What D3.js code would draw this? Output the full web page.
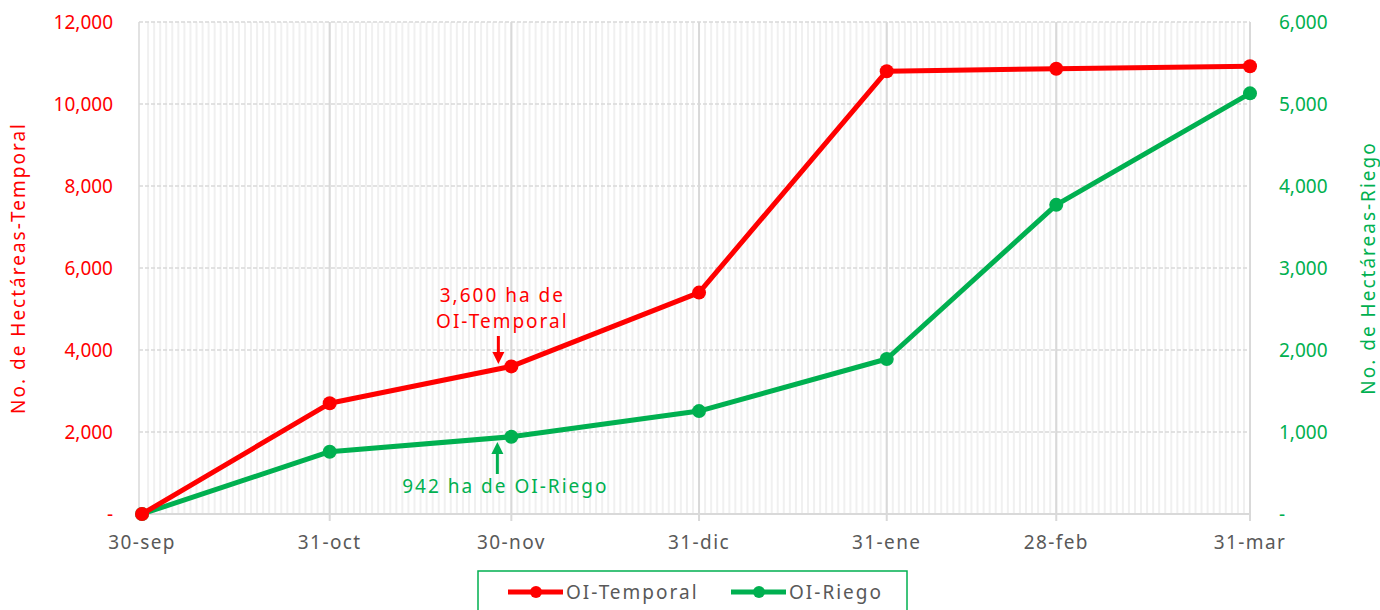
<!DOCTYPE html>
<html>
<head>
<meta charset="utf-8">
<script src="https://cdn.jsdelivr.net/npm/d3@7"></script>
<style>
  body { margin: 0; background: #fff; }
  text { font-family: "Noto Sans", sans-serif; }
  .txt { letter-spacing: 2px; }
  .xlab { letter-spacing: 1.4px; }
</style>
</head>
<body>
<div id="vis"></div>
<script>
// data
var fechas = ["2019-09-30", "2019-10-31", "2019-11-30", "2019-12-31", "2020-01-31", "2020-02-28", "2020-03-31"];
var etiquetas = ["30-sep", "31-oct", "30-nov", "31-dic", "31-ene", "28-feb", "31-mar"];
var temporal = [0, 2700, 3600, 5400, 10800, 10860, 10920];
var riego = [0, 760, 942, 1255, 1890, 3770, 5130];
var ticksIzq = [0, 2000, 4000, 6000, 8000, 10000, 12000];
var ticksDer = [0, 1000, 2000, 3000, 4000, 5000, 6000];

var width = 1380, height = 610;
var margin = {top: 22, right: 130, bottom: 96, left: 139};
var ROJO = "#ff0000", VERDE = "#00b050", GRIS = "#595959";

var parse = d3.timeParse("%Y-%m-%d");
var dates = fechas.map(parse);

var svg = d3.select("#vis").append("svg")
    .attr("width", width).attr("height", height);

var x = d3.scaleTime()
    .domain([d3.timeHour.offset(dates[0], -12), dates[dates.length - 1]])
    .range([margin.left, width - margin.right]);
var yL = d3.scaleLinear().domain([0, 12000]).range([height - margin.bottom, margin.top]);
var yR = d3.scaleLinear().domain([0, 6000]).range([height - margin.bottom, margin.top]);

var x0 = margin.left, x1 = width - margin.right;
var yb = height - margin.bottom, yt = margin.top;

// minor daily gridlines
var dias = d3.timeDay.range(d3.timeDay.offset(dates[0], 1), dates[dates.length - 1]);
svg.append("g").selectAll("line").data(dias).enter().append("line")
    .attr("x1", function(d){ return x(d); }).attr("x2", function(d){ return x(d); })
    .attr("y1", yt).attr("y2", yb)
    .attr("stroke", "#f0f0f0").attr("stroke-width", 2);

// horizontal dashed gridlines
svg.append("g").selectAll("line").data(ticksIzq.slice(1)).enter().append("line")
    .attr("x1", x0).attr("x2", x1)
    .attr("y1", function(d){ return yL(d); }).attr("y2", function(d){ return yL(d); })
    .attr("stroke", "#d9d9d9").attr("stroke-width", 1.5).attr("stroke-dasharray", "4,2");

// major month gridlines
svg.append("g").selectAll("line").data(dates.slice(1)).enter().append("line")
    .attr("x1", function(d){ return x(d); }).attr("x2", function(d){ return x(d); })
    .attr("y1", yt).attr("y2", yb + 7)
    .attr("stroke", "#d9d9d9").attr("stroke-width", 2);
svg.append("line").attr("x1", x0).attr("x2", x0).attr("y1", yt).attr("y2", yb)
    .attr("stroke", "#d9d9d9").attr("stroke-width", 1.5);

// x axis line
svg.append("line").attr("x1", x0).attr("x2", x1).attr("y1", yb).attr("y2", yb)
    .attr("stroke", "#d9d9d9").attr("stroke-width", 2);

// x labels
svg.append("g").selectAll("text").data(dates).enter().append("text")
    .attr("class", "xlab")
    .attr("x", function(d){ return x(d); }).attr("y", yb + 35)
    .attr("text-anchor", "middle").attr("fill", GRIS).style("font-size", "19px")
    .text(function(d, i){ return etiquetas[i]; });

var fmt = function(v){ return v === 0 ? "-" : d3.format(",")(v); };

// left axis
svg.append("g").selectAll("text").data(ticksIzq).enter().append("text")
    .attr("x", 113).attr("y", function(d){ return yL(d) + 7; })
    .attr("text-anchor", "end").attr("fill", ROJO).style("font-size", "19px")
    .text(fmt);
// right axis
svg.append("g").selectAll("text").data(ticksDer).enter().append("text")
    .attr("x", 1279).attr("y", function(d){ return yR(d) + 7; })
    .attr("text-anchor", "start").attr("fill", VERDE).style("font-size", "19px")
    .text(fmt);

// axis titles
svg.append("text").attr("class", "txt")
    .attr("transform", "translate(25," + (yL(6000) ) + ") rotate(-90)")
    .attr("text-anchor", "middle").attr("fill", ROJO).style("font-size", "19px")
    .text("No. de Hectáreas-Temporal");
svg.append("text").attr("class", "txt")
    .attr("transform", "translate(1375," + (yR(3000)) + ") rotate(-90)")
    .attr("text-anchor", "middle").attr("fill", VERDE).style("font-size", "19px")
    .text("No. de Hectáreas-Riego");

// series
function serie(vals, y, color) {
  var pts = dates.map(function(d, i){ return [x(d), y(vals[i])]; });
  svg.append("path").attr("d", d3.line()(pts))
      .attr("fill", "none").attr("stroke", color).attr("stroke-width", 5)
      .attr("stroke-linejoin", "round");
  svg.append("g").selectAll("circle").data(pts).enter().append("circle")
      .attr("cx", function(p){ return p[0]; }).attr("cy", function(p){ return p[1]; })
      .attr("r", 7).attr("fill", color);
}
serie(riego, yR, VERDE);
serie(temporal, yL, ROJO);

// annotations
var ax = x(dates[2]) - 13;
svg.append("text").attr("class", "txt").attr("x", ax + 4).attr("y", 302).attr("text-anchor", "middle")
    .attr("fill", ROJO).style("font-size", "19px").text("3,600 ha de");
svg.append("text").attr("class", "txt").attr("x", ax + 4).attr("y", 328).attr("text-anchor", "middle")
    .attr("fill", ROJO).style("font-size", "19px").text("OI-Temporal");
svg.append("line").attr("x1", ax).attr("x2", ax).attr("y1", 336).attr("y2", 356)
    .attr("stroke", ROJO).attr("stroke-width", 3);
svg.append("path").attr("d", "M" + (ax - 6) + ",352 L" + (ax + 6) + ",352 L" + ax + ",364 Z")
    .attr("fill", ROJO);

var bx = x(dates[2]) - 14;
svg.append("line").attr("x1", bx).attr("x2", bx).attr("y1", 474).attr("y2", 452)
    .attr("stroke", VERDE).attr("stroke-width", 3);
svg.append("path").attr("d", "M" + (bx - 6) + ",454 L" + (bx + 6) + ",454 L" + bx + ",442 Z")
    .attr("fill", VERDE);
svg.append("text").attr("class", "txt").attr("x", bx + 8).attr("y", 493).attr("text-anchor", "middle")
    .attr("fill", VERDE).style("font-size", "19px").text("942 ha de OI-Riego");

// legend
var lg = svg.append("g");
lg.append("rect").attr("x", 478).attr("y", 571).attr("width", 429).attr("height", 50)
    .attr("fill", "#fff").attr("stroke", VERDE).attr("stroke-width", 1.5);
var items = [{n: "OI-Temporal", c: ROJO, x: 508}, {n: "OI-Riego", c: VERDE, x: 731}];
items.forEach(function(it){
  lg.append("line").attr("x1", it.x).attr("x2", it.x + 55).attr("y1", 592).attr("y2", 592)
      .attr("stroke", it.c).attr("stroke-width", 5);
  lg.append("circle").attr("cx", it.x + 28).attr("cy", 592).attr("r", 6).attr("fill", it.c);
  lg.append("text").attr("class", "txt").attr("x", it.x + 58).attr("y", 599).attr("fill", GRIS)
      .style("font-size", "19px").text(it.n);
});
</script>
</body>
</html>
